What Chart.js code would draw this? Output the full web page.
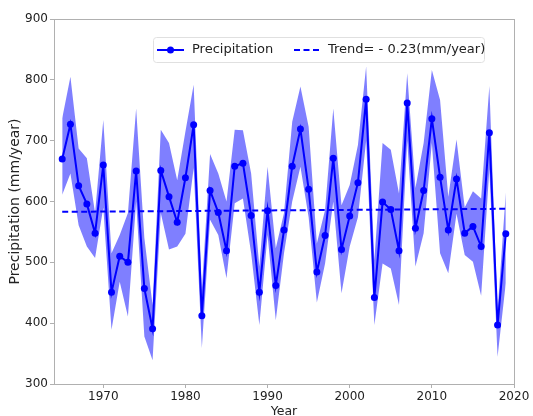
<!DOCTYPE html>
<html>
<head>
<meta charset="utf-8">
<script src="https://cdn.jsdelivr.net/npm/chart.js@4/dist/chart.umd.min.js"></script>
<style>
html,body{margin:0;padding:0;background:#fff;}
#wrap{width:533px;height:416px;position:relative;}
</style>
</head>
<body>
<div id="wrap"><canvas id="c" width="533" height="416"></canvas></div>
<script>
const years = [1965,1966,1967,1968,1969,1970,1971,1972,1973,1974,1975,1976,1977,1978,1979,1980,1981,1982,1983,1984,1985,1986,1987,1988,1989,1990,1991,1992,1993,1994,1995,1996,1997,1998,1999,2000,2001,2002,2003,2004,2005,2006,2007,2008,2009,2010,2011,2012,2013,2014,2015,2016,2017,2018,2019];
const precipitation = [670,727,626,596,548,660,451,510,500,650,457,391,651,608,566,639,726,412,618,582,519,658,663,577,451,585,462,553,658,719,620,484,544,671,521,576,631,768,442,599,587,519,762,556,618,736,640,553,637,548,559,526,713,397,547];
const upperBand = [737,805,687,671,581,734,515,545,581,753,540,430,718,696,635,715,792,455,678,646,600,718,717,646,493,657,523,581,731,789,723,531,586,753,594,627,693,822,504,696,685,613,811,622,696,816,767,608,702,590,617,605,790,419,615];
const lowerBand = [611,646,561,526,507,590,389,468,411,600,378,339,581,521,526,547,655,359,570,545,474,597,605,515,397,545,405,515,600,657,574,434,498,600,449,526,574,700,397,498,490,430,700,493,548,696,515,482,580,512,501,445,653,345,466];
const trendYears = [1965, 2019];
const trendValues = [583, 588];
const yTicks = [300,400,500,600,700,800,900];
const xTicks = [1970,1980,1990,2000,2010,2020];
const legendLabels = ['Precipitation', 'Trend= - 0.23(mm/year)'];

const pts = (xs, ys) => xs.map((x,i)=>({x:x,y:ys[i]}));
const FONT = "'DejaVu Sans', sans-serif";
const SPINE = '#b0b0b0';
const TXT = '#222222';

const framePlugin = {
  id: 'frame',
  afterDraw(chart){
    const {ctx, chartArea:a} = chart;
    ctx.save();
    ctx.strokeStyle = SPINE;
    ctx.lineWidth = 1;
    ctx.strokeRect(Math.round(a.left)+0.5, Math.round(a.top)+0.5, Math.round(a.right-a.left), Math.round(a.bottom-a.top));
    // legend
    const x0 = a.left + 99, y0 = a.top + 18, w = 331, h = 25;
    ctx.fillStyle = 'rgba(255,255,255,0.8)';
    ctx.strokeStyle = '#e0e0e0';
    ctx.beginPath();
    if (ctx.roundRect) ctx.roundRect(x0+0.5, y0+0.5, w, h, 3); else ctx.rect(x0+0.5,y0+0.5,w,h);
    ctx.fill(); ctx.stroke();
    const cy = y0 + h/2 + 0.5;
    ctx.strokeStyle = '#0000ff';
    ctx.lineWidth = 2;
    ctx.setLineDash([]);
    ctx.beginPath(); ctx.moveTo(x0+4, cy); ctx.lineTo(x0+31, cy); ctx.stroke();
    ctx.fillStyle = '#0000ff';
    ctx.beginPath(); ctx.arc(x0+17.5, cy, 3.5, 0, Math.PI*2); ctx.fill();
    ctx.setLineDash([6,3.5]);
    ctx.beginPath(); ctx.moveTo(x0+141, cy); ctx.lineTo(x0+168, cy); ctx.stroke();
    ctx.setLineDash([]);
    ctx.fillStyle = TXT;
    ctx.font = "13px " + FONT;
    ctx.textBaseline = 'middle';
    ctx.fillText(legendLabels[0], x0+39, cy);
    ctx.fillText(legendLabels[1], x0+175, cy);
    ctx.restore();
  }
};

new Chart(document.getElementById('c'), {
  type: 'line',
  data: {
    datasets: [
      {label:'upper', data: pts(years, upperBand), borderWidth:0, pointRadius:0, fill:'+1', backgroundColor:'rgba(0,0,255,0.5)', borderColor:'rgba(0,0,0,0)', tension:0, order:3},
      {label:'lower', data: pts(years, lowerBand), borderWidth:0, pointRadius:0, fill:false, borderColor:'rgba(0,0,0,0)', tension:0, order:3},
      {label:legendLabels[0], data: pts(years, precipitation), borderColor:'#0000ff', backgroundColor:'#0000ff', borderWidth:2, pointRadius:3.5, pointBorderWidth:0, pointBackgroundColor:'#0000ff', fill:false, tension:0, order:1},
      {label:legendLabels[1], data: pts(trendYears, trendValues), borderColor:'#0000ff', borderWidth:2, borderDash:[6,3.5], pointRadius:0, fill:false, tension:0, order:2}
    ]
  },
  options: {
    responsive:false,
    animation:false,
    devicePixelRatio:1,
    layout:{padding:{top:19,right:19,left:0,bottom:0}},
    plugins:{legend:{display:false}, tooltip:{enabled:false}},
    scales:{
      x:{
        type:'linear', min:1964, max:2020,
        afterBuildTicks(axis){ axis.ticks = xTicks.map(v=>({value:v})); },
        afterFit(axis){ axis.height = 32; },
        grid:{display:true, drawOnChartArea:false, drawTicks:true, tickLength:4, color:SPINE},
        border:{display:true, color:SPINE},
        ticks:{color:TXT, font:{family:FONT, size:12}, padding:2, maxRotation:0, autoSkip:false, callback:(v)=>String(v)},
        title:{display:true, text:'Year', color:TXT, font:{family:FONT, size:12.5}, padding:{top:0,bottom:-3}}
      },
      y:{
        min:300, max:900,
        afterBuildTicks(axis){ axis.ticks = yTicks.map(v=>({value:v})); },
        afterFit(axis){ axis.width = 54; },
        grid:{display:true, drawOnChartArea:false, drawTicks:true, tickLength:4, color:SPINE},
        border:{display:true, color:SPINE},
        ticks:{color:TXT, font:{family:FONT, size:12}, padding:2, callback:(v)=>String(v)},
        title:{display:true, text:'Precipitation (mm/year)', color:TXT, font:{family:FONT, size:14}, padding:{top:7,bottom:4}}
      }
    }
  },
  plugins:[framePlugin]
});
</script>
</body>
</html>
